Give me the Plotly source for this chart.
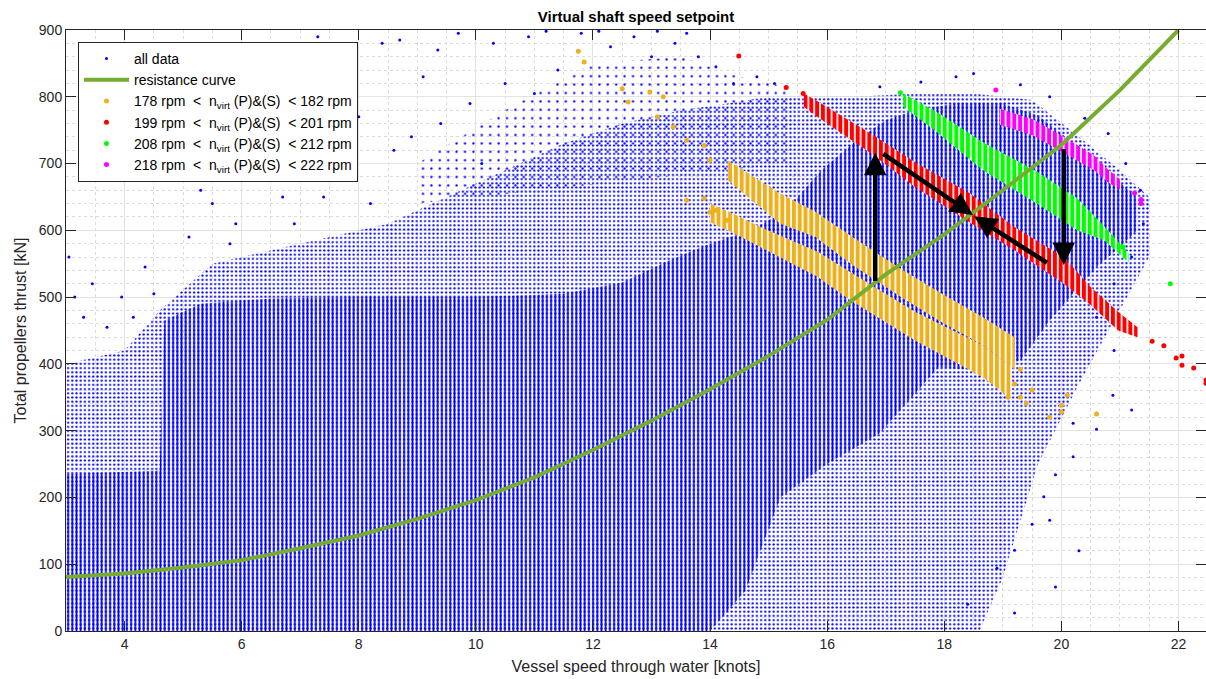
import plotly.graph_objects as go

# ---------------- resistance curve ----------------
res_speed = [3, 4, 5, 6, 7, 8, 9, 10, 11, 12, 13, 14, 15, 16, 17, 18, 19, 20, 21, 22]
res_thrust = [81, 86, 95, 106, 124, 143, 168, 196, 230, 271, 315, 362, 412, 466, 534, 594, 660, 728, 810, 900]

# ---------------- all data: envelopes of the measured cloud ----------------
# dense region (solid vertical columns of samples)
dense_top_speed = [3.0, 4.6, 4.68, 5.3, 6.5, 8.0, 10.0, 11.5, 12.5, 13.3, 14.0, 14.7, 15.3, 15.9,
                   16.5, 17.0, 17.5, 18.2, 19.0, 19.6, 20.1, 20.6, 21.0, 21.3]
dense_top_thrust = [235, 240, 465, 490, 498, 500, 500, 505, 522, 555, 580, 600, 630, 690,
                    735, 765, 780, 790, 790, 772, 738, 702, 672, 648]
dense_bot_speed = [21.3, 21.0, 20.6, 20.2, 19.8, 19.3, 18.6, 17.9, 16.9, 16.0, 15.2, 14.6, 14.0, 3.0]
dense_bot_thrust = [600, 575, 545, 505, 465, 405, 390, 395, 296, 250, 200, 60, 0, 0]

# scattered region (dotted columns)
sparse_top_speed = [3.0, 4.0, 4.6, 5.5, 7.0, 8.5, 9.5, 10.5, 11.5, 12.5, 13.5, 14.3, 15.0, 15.6,
                    16.5, 17.5, 18.5, 19.5, 20.3, 21.0, 21.5]
sparse_top_thrust = [400, 420, 480, 550, 580, 610, 650, 690, 730, 760, 780, 790, 800, 800,
                     800, 805, 805, 795, 740, 690, 650]
sparse_bot_speed = [21.5, 20.8, 20.3, 19.6, 19.0, 18.6, 3.0]
sparse_bot_thrust = [560, 450, 370, 250, 80, 0, 0]

# thin outer cloud
outer_top_speed = [9.0, 10.5, 12.0, 13.5, 14.5, 15.3]
outer_top_thrust = [700, 780, 850, 860, 830, 815]
outer_bot_speed = [15.3, 9.0]
outer_bot_thrust = [700, 640]

# isolated samples
all_pts_speed = [3.05, 3.15, 3.3, 3.45, 3.7, 3.95, 4.15, 4.35, 4.5,
                 5.1, 5.5, 5.9, 6.3, 6.7, 7.0, 7.3, 7.6, 8.0, 8.4, 8.7, 8.9, 9.1, 9.35, 9.7, 9.9,
                 10.3, 10.5, 10.9, 11.2, 11.4, 11.8, 12.1, 12.3, 12.7, 13.0, 13.1, 13.4, 13.6, 13.8,
                 14.1, 14.4, 14.8, 15.1,
                 5.3, 6.0, 6.9, 7.9, 8.2, 9.4, 10.1, 11.0, 5.8, 7.4, 8.6,
                 16.9, 17.6, 18.2, 18.5, 19.3, 19.8, 20.4, 20.8, 21.1, 21.35, 21.4, 21.2, 20.9, 20.6,
                 20.9, 20.88, 21.2, 20.6, 20.6, 20.2, 20.2, 19.9, 19.8, 19.9, 19.7, 19.2, 19.2, 18.9,
                 18.4, 19.5, 20.3]
all_pts_thrust = [560, 500, 470, 520, 455, 500, 470, 545, 505,
                  590, 640, 610, 700, 650, 740, 890, 690, 770, 880, 885, 740, 830, 870, 895, 790,
                  880, 820, 890, 898, 840, 895, 898, 875, 890, 860, 898, 880, 895, 860,
                  845, 820, 830, 820,
                  660, 760, 610, 700, 640, 760, 700, 805, 580, 650, 720,
                  815, 822, 830, 835, 818, 800, 768, 745, 700, 660, 610, 560, 520, 470,
                  420, 353, 331, 326, 302, 311, 261, 234, 166, 66, 201, 121, 27, 94,
                  40, 160, 120]

# ---------------- shaft speed setpoint bands ----------------
# 178-182 rpm (two operating branches)
o1_speed = [14.3, 15.2, 15.8, 16.4, 17.26, 17.94, 18.66, 19.2]
o1_hi = [705, 655, 628, 592, 542, 506, 470, 440]
o1_lo = [675, 610, 590, 550, 500, 463, 428, 392]
o2_speed = [14.0, 14.4, 14.86, 15.84, 16.35, 17.5, 18.66, 19.13]
o2_hi = [640, 625, 605, 568, 540, 478, 428, 397]
o2_lo = [612, 596, 575, 530, 498, 435, 380, 348]
o_pts_speed = [11.75, 11.85, 12.5, 12.6, 12.97, 13.2, 13.1, 13.37, 13.6, 13.9, 14.0, 13.6, 13.9,
               14.0, 14.1, 14.3, 19.09, 19.3, 19.4, 19.5, 19.8, 20.0, 20.0, 20.1, 20.6, 19.2, 19.3]
o_pts_thrust = [868, 852, 812, 792, 807, 800, 770, 755, 735, 727, 705, 645, 648,
                627, 630, 615, 350, 350, 341, 361, 320, 338, 328, 353, 325, 370, 392]

# 199-201 rpm
r_speed = [15.6, 15.8, 16.8, 17.5, 18.43, 19.2, 20.04, 20.5, 20.97, 21.3]
r_hi = [805, 795, 742, 702, 656, 605, 560, 515, 478, 455]
r_lo = [785, 772, 712, 665, 612, 570, 520, 488, 450, 440]
r_pts_speed = [14.49, 15.3, 15.59, 21.55, 21.75, 21.96, 22.06, 22.06, 22.26, 22.47, 22.47]
r_pts_thrust = [861, 814, 805, 434, 427, 409, 412, 398, 394, 376, 371]

# 208-212 rpm
g_speed = [17.3, 17.86, 18.66, 19.58, 20.27, 20.73, 21.15]
g_hi = [805, 778, 732, 688, 648, 606, 566]
g_lo = [785, 748, 690, 640, 600, 585, 552]
g_pts_speed = [17.25, 21.86, 21.05]
g_pts_thrust = [806, 520, 575]

# 218-222 rpm
m_speed = [18.95, 19.52, 20.04, 20.56, 20.79, 21.0]
m_hi = [782, 766, 740, 712, 692, 676]
m_lo = [758, 742, 716, 690, 672, 662]
m_pts_speed = [18.88, 21.25, 21.36, 21.36]
m_pts_thrust = [810, 656, 640, 646]

# ---------------- operating point transitions (tail -> head) ----------------
arrow_tail_speed = [16.82, 16.93, 19.78, 20.04]
arrow_tail_thrust = [522, 716, 550, 724]
arrow_head_speed = [16.82, 18.49, 18.51, 20.04]
arrow_head_thrust = [716, 623, 621, 548]

BLUE = "#0000ff"
ORANGE = "#edb120"
RED = "#ff0000"
GREEN = "#00ff00"
MAGENTA = "#ff00ff"
OLIVE = "#77ac30"
FONT = "Liberation Sans"

legend_labels = [
    "178 rpm\u00a0\u00a0&lt;\u00a0\u00a0n<sub>virt</sub> (P)&amp;(S)\u00a0\u00a0&lt; 182 rpm",
    "199 rpm\u00a0\u00a0&lt;\u00a0\u00a0n<sub>virt</sub> (P)&amp;(S)\u00a0\u00a0&lt; 201 rpm",
    "208 rpm\u00a0\u00a0&lt;\u00a0\u00a0n<sub>virt</sub> (P)&amp;(S)\u00a0\u00a0&lt; 212 rpm",
    "218 rpm\u00a0\u00a0&lt;\u00a0\u00a0n<sub>virt</sub> (P)&amp;(S)\u00a0\u00a0&lt; 222 rpm",
]


def region(xt, yt, xb, yb, pattern):
    return go.Scatter(x=xt + xb, y=yt + yb, mode="lines", fill="toself",
                      line=dict(width=0), fillcolor="rgba(0,0,0,0)",
                      fillpattern=pattern, showlegend=False, hoverinfo="skip")


def band(xs, hi, lo, color):
    return go.Scatter(x=xs + xs[::-1], y=hi + lo[::-1], mode="lines", fill="toself",
                      line=dict(width=0), fillcolor="rgba(0,0,0,0)",
                      fillpattern=dict(shape="|", size=5.8, solidity=0.7, fgcolor=color,
                                       bgcolor="white", fgopacity=1),
                      showlegend=False, hoverinfo="skip")


fig = go.Figure()

# all data cloud
fig.add_trace(region(outer_top_speed, outer_top_thrust, outer_bot_speed, outer_bot_thrust,
                     dict(shape=".", size=8.4, solidity=0.06, fgcolor=BLUE, fgopacity=1)))
fig.add_trace(region(sparse_top_speed, sparse_top_thrust, sparse_bot_speed, sparse_bot_thrust,
                     dict(shape=".", size=4.2, solidity=0.22, fgcolor=BLUE, fgopacity=1)))
fig.add_trace(region(dense_top_speed, dense_top_thrust, dense_bot_speed, dense_bot_thrust,
                     dict(shape="|", size=4.2, solidity=0.42, fgcolor=BLUE, fgopacity=1)))
fig.add_trace(go.Scatter(x=all_pts_speed, y=all_pts_thrust, mode="markers", name="all data",
                         marker=dict(color=BLUE, size=3)))

# setpoint bands
fig.add_trace(band(o1_speed, o1_hi, o1_lo, ORANGE))
fig.add_trace(band(o2_speed, o2_hi, o2_lo, ORANGE))
fig.add_trace(band(r_speed, r_hi, r_lo, RED))
fig.add_trace(band(g_speed, g_hi, g_lo, GREEN))
fig.add_trace(band(m_speed, m_hi, m_lo, MAGENTA))

# resistance curve on top of the data
fig.add_trace(go.Scatter(x=res_speed, y=res_thrust, mode="lines", name="resistance curve",
                         line=dict(color=OLIVE, width=4)))

fig.add_trace(go.Scatter(x=o_pts_speed, y=o_pts_thrust, mode="markers", name=legend_labels[0],
                         marker=dict(color=ORANGE, size=5)))
fig.add_trace(go.Scatter(x=r_pts_speed, y=r_pts_thrust, mode="markers", name=legend_labels[1],
                         marker=dict(color=RED, size=5)))
fig.add_trace(go.Scatter(x=g_pts_speed, y=g_pts_thrust, mode="markers", name=legend_labels[2],
                         marker=dict(color=GREEN, size=5)))
fig.add_trace(go.Scatter(x=m_pts_speed, y=m_pts_thrust, mode="markers", name=legend_labels[3],
                         marker=dict(color=MAGENTA, size=5)))

# transition arrows
for tx, ty, hx, hy in zip(arrow_tail_speed, arrow_tail_thrust, arrow_head_speed, arrow_head_thrust):
    fig.add_annotation(x=hx, y=hy, ax=tx, ay=ty, xref="x", yref="y", axref="x", ayref="y",
                       text="", showarrow=True, arrowhead=2, arrowsize=1.0, arrowwidth=4.5,
                       arrowcolor="black")

axis_common = dict(
    showline=True, linecolor="#262626", linewidth=1, mirror="ticks",
    ticks="inside", ticklen=10, tickcolor="#262626",
    showgrid=True, gridcolor="#e3e3e3", gridwidth=1, zeroline=False,
    tickfont=dict(family=FONT, size=14, color="#262626"),
)

fig.update_xaxes(**axis_common, range=[3, 22.47], tick0=0, dtick=2,
                 minor=dict(dtick=0.5, showgrid=True, gridcolor="#dcdcdc", griddash="dot", ticks=""),
                 title=dict(text="Vessel speed through water [knots]",
                            font=dict(family=FONT, size=16, color="#262626"), standoff=10))
fig.update_yaxes(**axis_common, range=[0, 900], tick0=0, dtick=100,
                 minor=dict(dtick=20, showgrid=True, gridcolor="#dcdcdc", griddash="dot", ticks=""),
                 title=dict(text="Total propellers thrust [kN]",
                            font=dict(family=FONT, size=16, color="#262626"), standoff=8))

fig.update_layout(
    width=1206, height=679,
    margin=dict(l=66, r=0, t=30, b=48),
    paper_bgcolor="white", plot_bgcolor="white",
    title=dict(text="<b>Virtual shaft speed setpoint</b>", x=0.5, xref="paper", xanchor="center",
               y=0.975, yanchor="middle", font=dict(family=FONT, size=15, color="black")),
    legend=dict(x=0.0105, y=0.98, xanchor="left", yanchor="top", itemwidth=45,
                bgcolor="white", bordercolor="#262626", borderwidth=1,
                font=dict(family=FONT, size=14, color="black"), tracegroupgap=0),
    showlegend=True,
)

fig.write_html("out.html")
